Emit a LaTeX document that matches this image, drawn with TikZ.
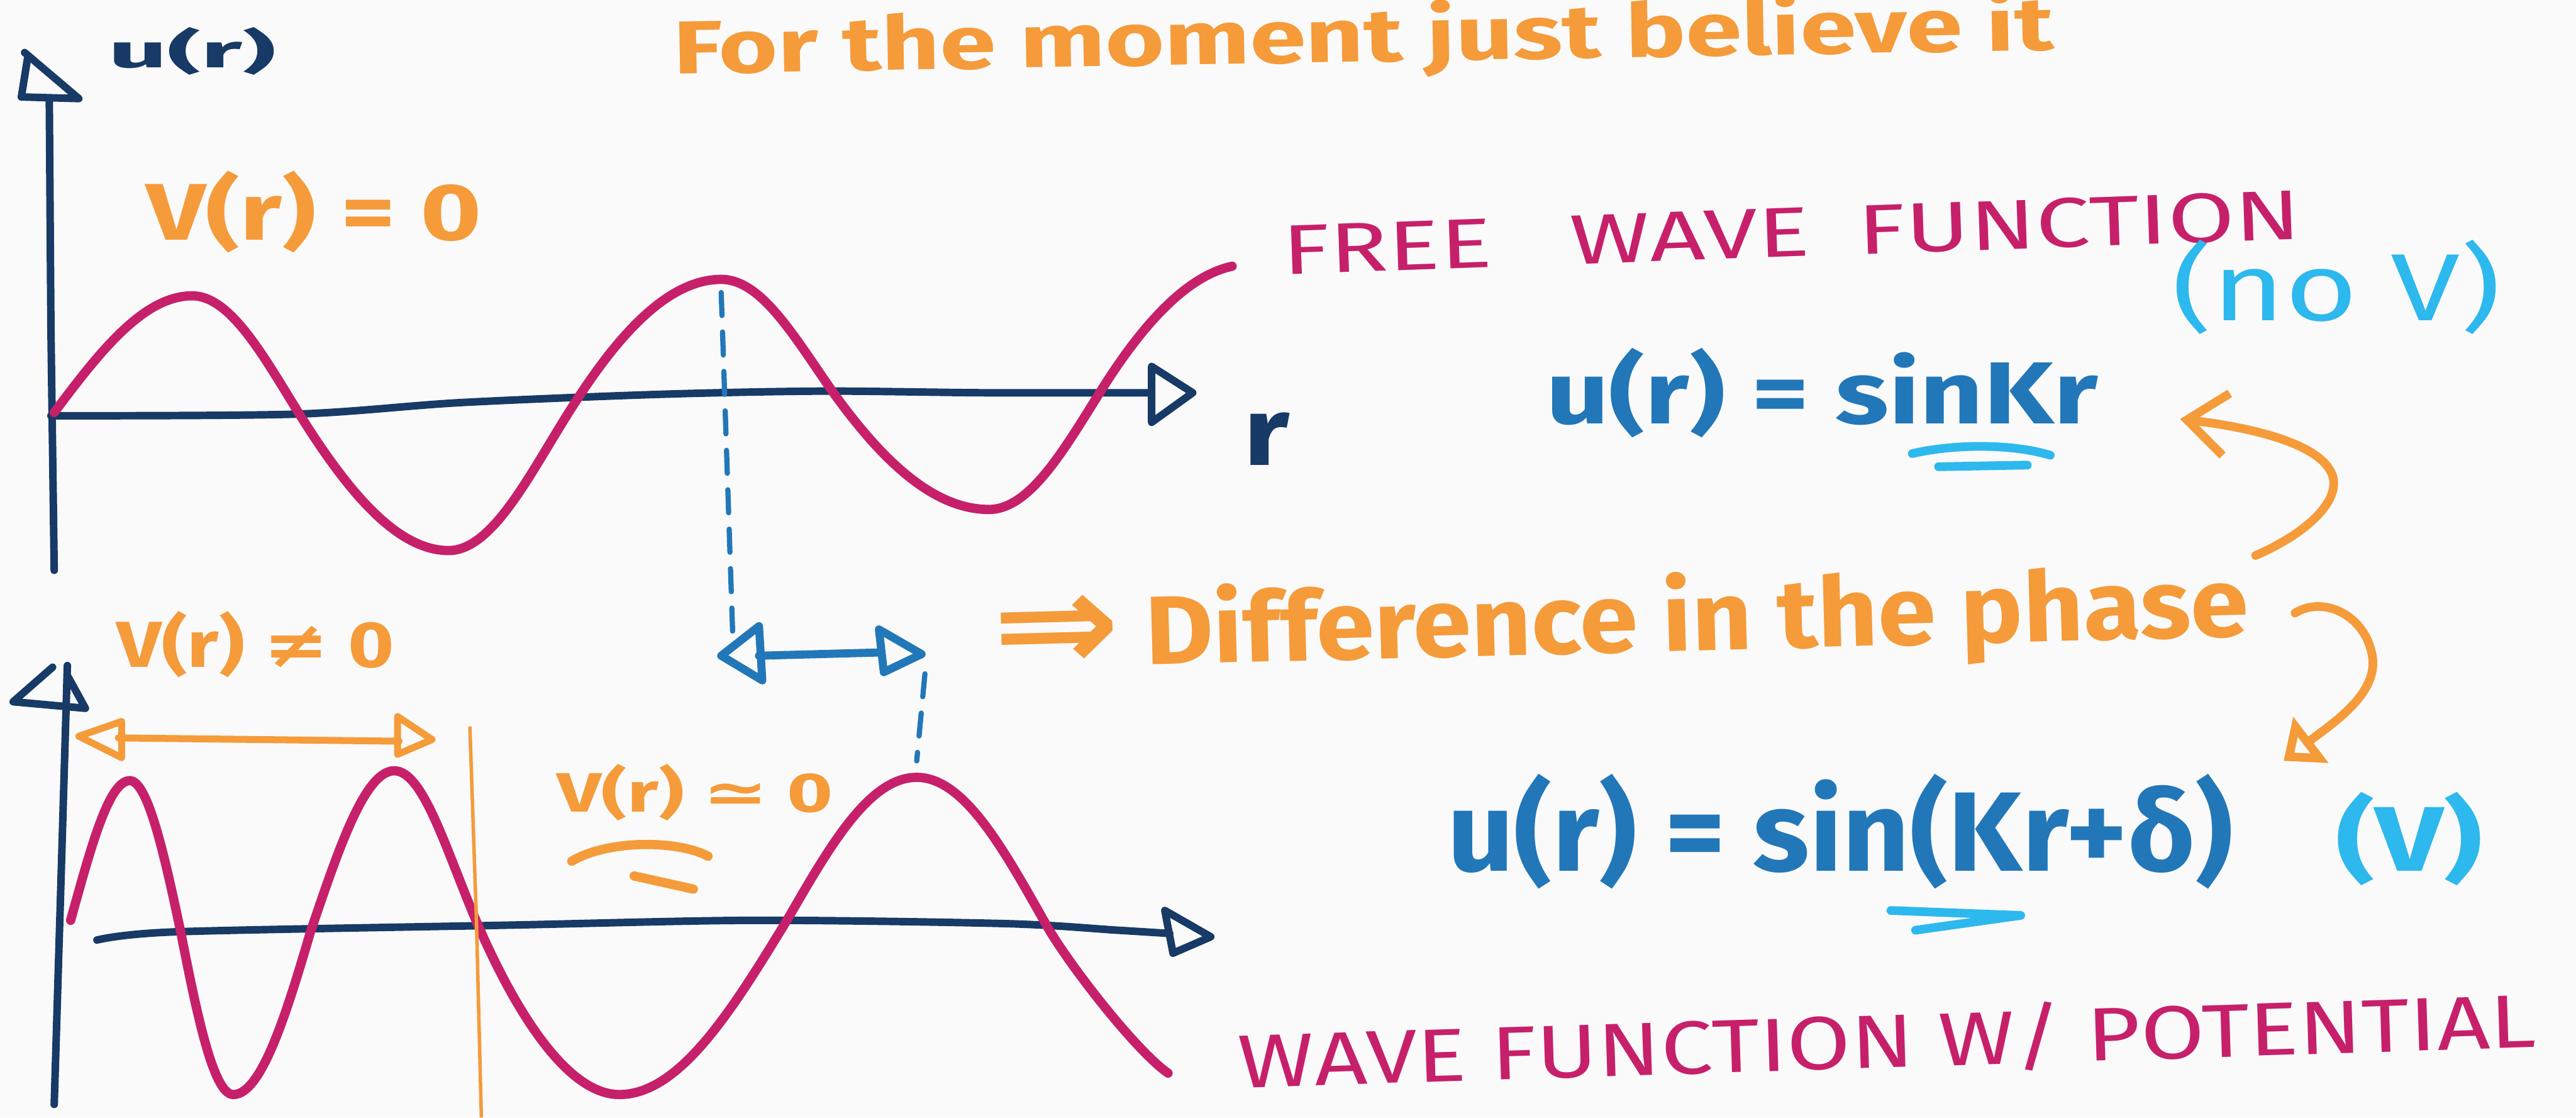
\documentclass[tikz,border=0pt]{standalone}
\usepackage{fontspec}
\setmainfont{Fira Sans}
\newfontfamily\symf{DejaVu Sans}
\usepackage{graphicx}
\usetikzlibrary{arrows.meta}
\definecolor{org}{HTML}{F59B3A}
\definecolor{mag}{HTML}{C7206A}
\definecolor{nav}{HTML}{173A66}
\definecolor{blu}{HTML}{2277B9}
\definecolor{lbl}{HTML}{2DB8EE}
\definecolor{bgc}{HTML}{FAFAFA}
\newcommand\fitto[3]{\resizebox{#1cm}{#2cm}{#3}}
\tikzset{
  txt/.style={inner sep=0pt, outer sep=0pt, anchor=base west},
  wave/.style={draw=mag, line width=1.6pt, line cap=round, line join=round},
  axisline/.style={draw=nav, line width=1.3pt, line cap=round, line join=round},
  axhead/.style={draw=nav, line width=1.3pt, line join=round, line cap=round},
  dashblue/.style={draw=blu, line width=0.9pt, line cap=round, dash pattern=on 0.14cm off 0.10cm},
  bluearr/.style={draw=blu, line width=1.4pt, line cap=round, line join=round},
  orgline/.style={draw=org, line width=1.2pt, line cap=round, line join=round},
  orgthin/.style={draw=org, line width=0.6pt},
  orgcurve/.style={draw=org, line width=1.5pt, line cap=round, line join=round},
  barbhead/.style={-{Straight Barb[length=0.24cm, width=0.38cm, line width=1.5pt]}},
  trihead/.style={-{Triangle[open, length=0.21cm, width=0.34cm, line width=1.8pt]}},
  underl/.style={draw=lbl, line width=1.5pt, line cap=round, line join=round},
  underlo/.style={draw=org, line width=1.6pt, line cap=round, line join=round}
}
\begin{document}
\begin{tikzpicture}[x=0.01cm, y=-0.01cm]
\useasboundingbox (0,0) rectangle (1568,680);
\fill[bgc] (0,0) rectangle (1568,680);

% ---------- texts ----------
\node[txt, text=org, rotate=1] (title) at (410,45) {\fitto{8.4}{0.37}{\bfseries For the moment just believe it}};
\node[txt, text=nav] (ulab) at (66,41) {\fitto{1.02}{0.245}{\bfseries u(r)}};
\node[txt, text=org] (v0) at (89,146) {\fitto{2.04}{0.42}{\bfseries V(r) = 0}};
\node[txt, text=nav] (rlab) at (757,283) {\fitto{0.28}{0.32}{\bfseries r}};
\node[txt, text=mag, rotate=2] (free) at (781,167) {\fitto{6.2}{0.30}{FREE\hspace{0.8em}WAVE\hspace{0.5em}FUNCTION}};
\node[txt, text=lbl] (nov) at (1322,195) {\fitto{2.0}{0.49}{(no V)}};
\node[txt, text=blu] (eq1) at (941,258) {\fitto{3.36}{0.46}{\bfseries u(r) = sinKr}};
\node[txt, text=org, rotate=1.5] (diff) at (605,407) {\fitto{7.64}{0.48}{\bfseries \raisebox{-0.05em}{\scalebox{1.45}{\symf ⇒}} Difference in the phase}};
\node[txt, text=blu] (eq2) at (881,530) {\fitto{4.78}{0.59}{\bfseries u(r) = sin(Kr+δ)}};
\node[txt, text=lbl] (vlab) at (1422,530) {\fitto{0.89}{0.48}{\bfseries (V)}};
\node[txt, text=mag, rotate=1.8] (wpot) at (754,662) {\fitto{7.9}{0.37}{WAVE FUNCTION W/ POTENTIAL}};
\node[txt, text=org] (vne) at (71,406) {\fitto{1.69}{0.34}{\bfseries V(r) {\symf ≠} 0}};
\node[txt, text=org] (vap) at (339,494) {\fitto{1.68}{0.29}{\bfseries V(r) {\symf ≃} 0}};

% ---------- top axes ----------
\draw[axisline] (33,347) -- (31,200) -- (30,60);
\draw[axhead] (17,34) -- (13,59) -- (48,60) -- (15,32);
\draw[axisline] plot[smooth, tension=0.5] coordinates {(31,253) (180,252) (280,245) (400,240) (500,238) (600,239) (701,239)};
\draw[axhead] (701,223) -- (726,239) -- (701,257) -- cycle;

% top wave
\draw[wave] (33,251) .. controls (60,215) and (87,180) .. (117,180)
  .. controls (140,180) and (160,216) .. (181,250)
  .. controls (209,295) and (240,335) .. (273,335)
  .. controls (301,335) and (324,285) .. (350,245)
  .. controls (377,203) and (407,170) .. (439,170)
  .. controls (464,170) and (484,206) .. (508,240)
  .. controls (537,280) and (568,310) .. (602,310)
  .. controls (627,310) and (648,273) .. (670,238)
  .. controls (695,198) and (722,168) .. (750,162);

% ---------- bottom axes ----------
\draw[axisline] (33,672) -- (37,540) -- (41,405);
\draw[axhead] (32,406) -- (8,427) -- (52,431) -- (41,411);
\draw[axisline] plot[smooth, tension=0.5] coordinates {(59,572) (107,567) (306,563) (459,560) (612,562) (680,566) (712,568)};
\draw[axhead] (709,554) -- (737,570) -- (714,580) -- cycle;

% bottom wave
\draw[wave] (43,560) .. controls (55,517) and (66,475) .. (79,475)
  .. controls (90,475) and (100,520) .. (110,567)
  .. controls (120,618) and (130,666) .. (142,666)
  .. controls (159,666) and (174,618) .. (189,567)
  .. controls (206,517) and (222,469) .. (240,469)
  .. controls (258,469) and (272,519) .. (291,563)
  .. controls (315,618) and (346,666) .. (377,666)
  .. controls (414,666) and (446,614) .. (479,560)
  .. controls (505,515) and (529,473) .. (558,473)
  .. controls (587,473) and (611,517) .. (637,563)
  .. controls (650,586) and (691,639) .. (711,653);

% orange range arrow and boundary
\draw[orgline] (72,449) -- (243,451);
\draw[orgline] (74,439) -- (48,448) -- (74,461) -- cycle;
\draw[orgline] (242,436) -- (263,450) -- (242,459) -- cycle;
\draw[orgthin] (286,442) -- (290,560) -- (293,680);

% underline of V(r) ~ 0
\draw[underlo] (348,524) .. controls (370,511) and (412,511) .. (431,521);
\draw[underlo] (386,533) -- (422,541);

% ---------- blue phase marker ----------
\coordinate (pk1) at (439,178);
\coordinate (pk1b) at (446,386);
\draw[dashblue] (pk1) -- (pk1b);
\coordinate (pk2) at (563,410);
\coordinate (pk2b) at (558,463);
\draw[dashblue] (pk2) -- (pk2b);
\draw[bluearr] (462,399) -- (536,397);
\draw[bluearr] (439,399) -- (462,381) -- (464,414) -- cycle;
\draw[bluearr] (535,383) -- (561,398) -- (538,409) -- cycle;

% ---------- underlines ----------
\draw[underl] (1164,276) .. controls (1190,270) and (1225,270) .. (1248,277);
\draw[underl] (1180,284) -- (1234,283);
\draw[underl] (1151,554) -- (1230,557) -- (1166,566);

% ---------- orange curved arrows ----------
\coordinate (a1s) at (1373,338);
\coordinate (a1m) at (1420,290);
\coordinate (a1e) at (1327,255);
\draw[orgcurve, barbhead] (a1s) .. controls (1405,324) and (1424,305) .. (a1m) .. controls (1414,270) and (1370,260) .. (a1e);
\coordinate (a2s) at (1397,373);
\coordinate (a2m) at (1444,399);
\coordinate (a2e) at (1390,463);
\draw[orgcurve, trihead] (a2s) .. controls (1415,362) and (1440,375) .. (a2m) .. controls (1448,422) and (1420,440) .. (a2e);
\end{tikzpicture}
\end{document}
